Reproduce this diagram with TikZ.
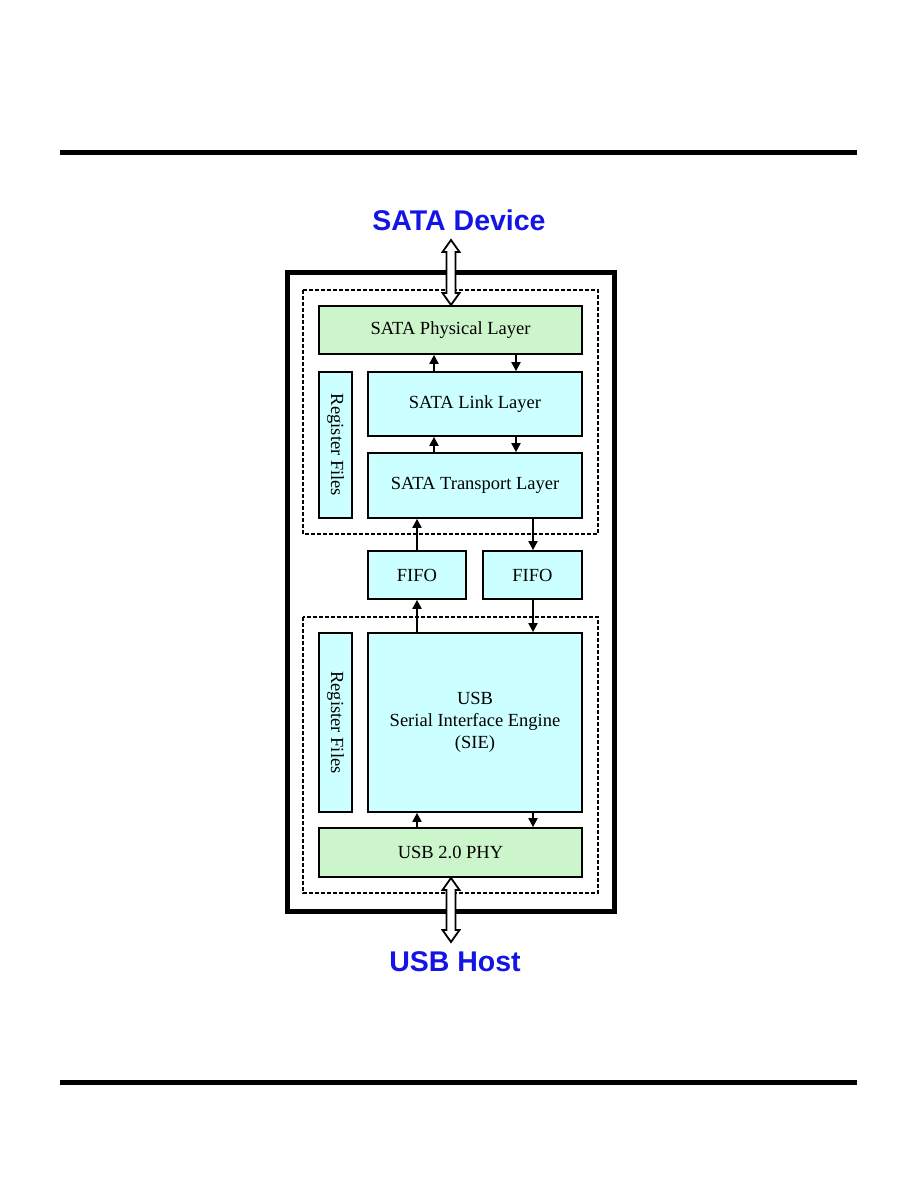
\documentclass[tikz,border=0pt]{standalone}
\usepackage{fontspec}
\setmainfont{Liberation Serif}
\newfontfamily\headfont{Liberation Sans}
\usetikzlibrary{arrows.meta,calc}
\definecolor{phygreen}{RGB}{204,245,204}
\definecolor{blkcyan}{RGB}{204,255,255}
\definecolor{titleblue}{RGB}{20,20,230}
\begin{document}
\begin{tikzpicture}[x=1pt,y=-1pt,
  blk/.style={draw=black,line width=1.7pt,fill=blkcyan,inner sep=0pt,font=\fontsize{18.5}{22}\selectfont},
  phy/.style={blk,fill=phygreen},
  vlabel/.style={rotate=-90,font=\fontsize{18.5}{22}\selectfont},
  dashbox/.style={draw=black,line width=1.7pt,dash pattern=on 4pt off 2pt},
  sig/.style={line width=1.9pt,-{Triangle[length=9pt,width=9pt]}},
  dbl/.style={draw=black,line width=1.8pt,fill=white,line join=miter},
  title/.style={font=\headfont\bfseries\fontsize{28.5}{32}\selectfont,text=titleblue}]
\useasboundingbox (0,0) rectangle (918,1188);
% page rules
\fill (60,150) rectangle (857,155);
\fill (60,1080) rectangle (857,1085);
% outer box
\draw[line width=5pt] (287,272) rectangle (614,911);
% dashed groups
\draw[dashbox] (303,290) rectangle (598,534);
\draw[dashbox] (303,617) rectangle (598,893);
% blocks
\node[phy,minimum width=263,minimum height=48] (sphy) at (450.5,330) {SATA Physical Layer};
\node[blk,minimum width=214,minimum height=64] (link) at (475,404) {SATA Link Layer};
\node[blk,minimum width=214,minimum height=65] (trans) at (475,485.5) {SATA Transport Layer};
\node[blk,minimum width=33,minimum height=146] (reg1) at (335.5,445) {};
\node[vlabel] at (reg1.center) {Register Files};
\node[blk,minimum width=98,minimum height=48] (fifo1) at (417,575) {FIFO};
\node[blk,minimum width=99,minimum height=48] (fifo2) at (532.5,575) {FIFO};
\node[blk,minimum width=214,minimum height=179,align=center] (sie) at (475,722.5) {USB\\Serial Interface Engine\\(SIE)};
\node[blk,minimum width=33,minimum height=179] (reg2) at (335.5,722.5) {};
\node[vlabel] at (reg2.center) {Register Files};
\node[phy,minimum width=263,minimum height=49] (uphy) at (450.5,852.5) {USB 2.0 PHY};
% titles
\node[title] (sata) at (459,220) {SATA Device};
\node[title] (usb) at (455,962) {USB Host};
% signal arrows
\draw[sig] (link.north -| 434,0) -- (sphy.south -| 434,0);
\draw[sig] (sphy.south -| 516,0) -- (link.north -| 516,0);
\draw[sig] (trans.north -| 434,0) -- (link.south -| 434,0);
\draw[sig] (link.south -| 516,0) -- (trans.north -| 516,0);
\draw[sig] (fifo1.north) -- (trans.south -| fifo1.north);
\draw[sig] (trans.south -| 533,0) -- (fifo2.north -| 533,0);
\draw[sig] (sie.north -| fifo1.south) -- (fifo1.south);
\draw[sig] (fifo2.south -| 533,0) -- (sie.north -| 533,0);
\draw[sig] (uphy.north -| 417,0) -- (sie.south -| 417,0);
\draw[sig] (sie.south -| 533,0) -- (uphy.north -| 533,0);
% double arrows
\coordinate (a1) at (451,240);
\coordinate (a2) at (451,305);
\draw[dbl] (a1) -- ++(8.5,12) -- ++(-4,0) -- ($(a2)+(4.5,-12)$) -- ++(4,0) -- (a2) -- ++(-8.5,-12) -- ++(4,0) -- ($(a1)+(-4.5,12)$) -- ++(-4,0) -- cycle;
\coordinate (b1) at (451,878);
\coordinate (b2) at (451,942);
\draw[dbl] (b1) -- ++(8.5,12) -- ++(-4,0) -- ($(b2)+(4.5,-12)$) -- ++(4,0) -- (b2) -- ++(-8.5,-12) -- ++(4,0) -- ($(b1)+(-4.5,12)$) -- ++(-4,0) -- cycle;
\end{tikzpicture}
\end{document}
